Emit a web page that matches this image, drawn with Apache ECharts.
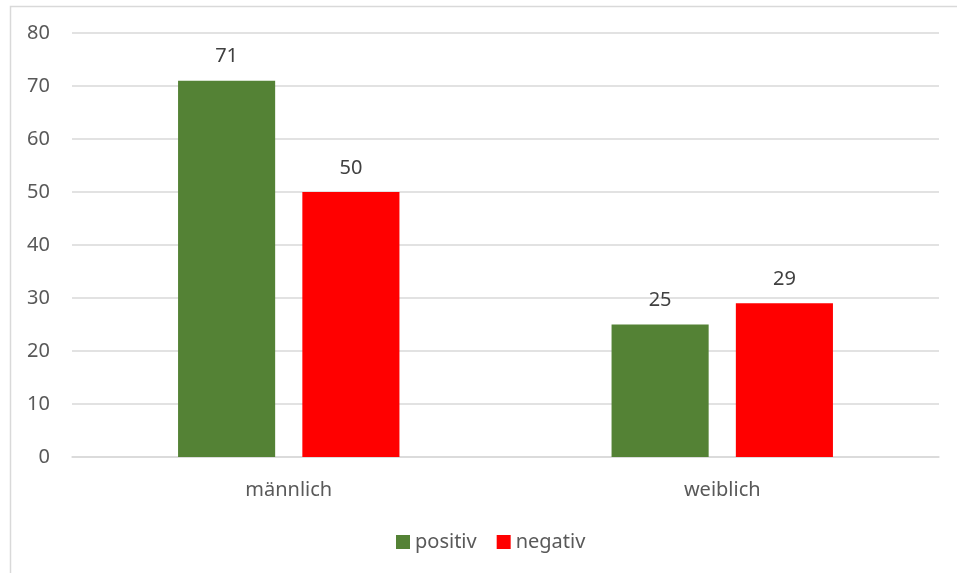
<!DOCTYPE html>
<html>
<head>
<meta charset="utf-8">
<script src="https://cdn.jsdelivr.net/npm/echarts@6/dist/echarts.min.js"></script>
<style>
  html, body { margin: 0; padding: 0; background: #fff; }
  #chart { width: 957px; height: 573px; }
</style>
</head>
<body>
<div id="chart"></div>
<script>
// Gruppen und Werte
const categories = ['männlich', 'weiblich'];
const positiv = [71, 25];
const negativ = [50, 29];
const yTicks = { min: 0, max: 80, interval: 10 };

const FONT = 'Noto Sans';
const chart = echarts.init(document.getElementById('chart'), null, { renderer: 'canvas' });

chart.setOption({
  animation: false,
  backgroundColor: '#ffffff',
  textStyle: { fontFamily: FONT },
  graphic: [{
    type: 'rect',
    left: 8, top: 4,
    shape: { width: 1000, height: 600 },
    style: { fill: 'none', stroke: '#d9d9d9', lineWidth: 1.5 },
    silent: true
  }],
  grid: { left: 72, right: 18, top: 33, bottom: 116, containLabel: false },
  legend: {
    bottom: 16,
    left: 391,
    itemWidth: 14,
    itemHeight: 14,
    itemGap: 20,
    icon: 'rect',
    textStyle: { color: '#595959', fontSize: 20, fontFamily: FONT },
    data: ['positiv', 'negativ']
  },
  xAxis: {
    type: 'category',
    data: categories,
    axisLine: { show: true, lineStyle: { color: '#d9d9d9', width: 1.5 } },
    axisTick: { show: false },
    axisLabel: { color: '#595959', fontSize: 20, margin: 23, fontFamily: FONT }
  },
  yAxis: {
    type: 'value',
    min: yTicks.min, max: yTicks.max, interval: yTicks.interval,
    axisLine: { show: false },
    axisTick: { show: false },
    axisLabel: { color: '#595959', fontSize: 20, margin: 22, fontFamily: FONT },
    splitLine: { lineStyle: { color: '#d9d9d9', width: 1.5 } }
  },
  series: [
    {
      name: 'positiv', type: 'bar', data: positiv,
      barWidth: '22.4%', barGap: '28%',
      itemStyle: { color: '#548235' },
      label: { show: true, position: 'top', distance: 14, color: '#404040', fontSize: 20, fontFamily: FONT }
    },
    {
      name: 'negativ', type: 'bar', data: negativ,
      barWidth: '22.4%', barGap: '28%',
      itemStyle: { color: '#ff0000' },
      label: { show: true, position: 'top', distance: 14, color: '#404040', fontSize: 20, fontFamily: FONT }
    }
  ]
});
</script>
</body>
</html>
